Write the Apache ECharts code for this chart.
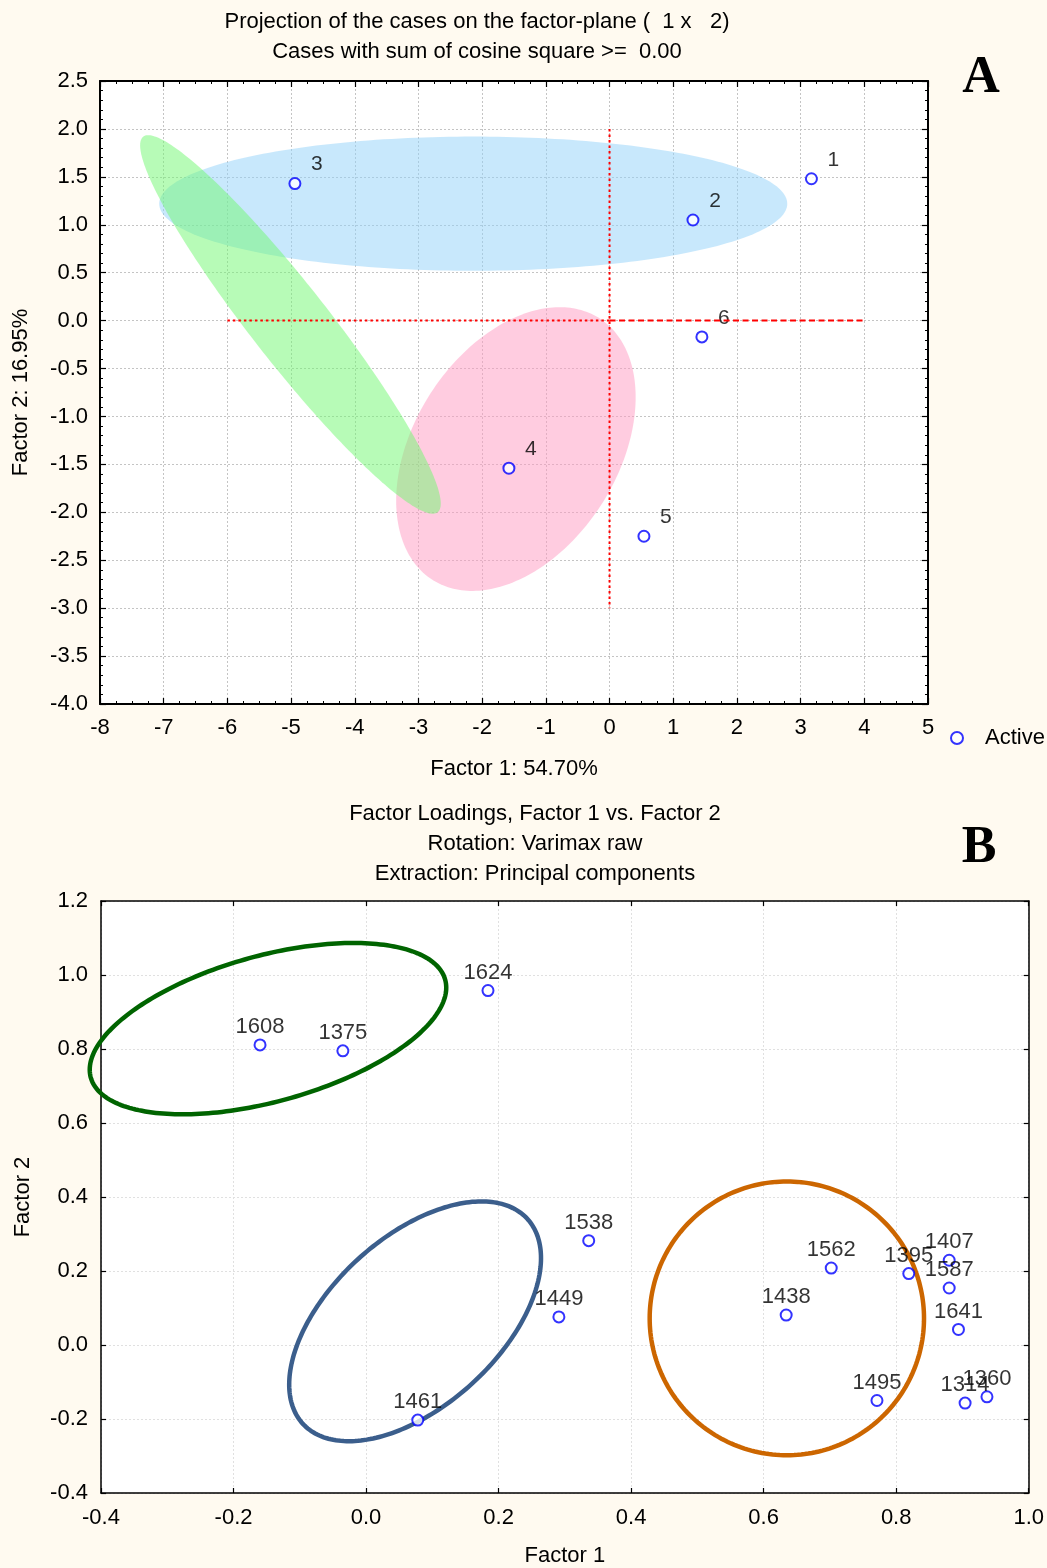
<!DOCTYPE html>
<html>
<head>
<meta charset="utf-8">
<title>Factor analysis: case projection and factor loadings</title>
<script src="https://cdn.jsdelivr.net/npm/echarts@6/dist/echarts.min.js"></script>
<style>
  html, body { margin: 0; padding: 0; background: #fffaf0; }
  #chart { width: 1047px; height: 1568px; }
</style>
</head>
<body>
<div id="chart"></div>
<script>
// ---------- Panel A: projection of the cases on the factor plane ----------
const caseIds = ['1', '2', '3', '4', '5', '6'];
const caseF1 = [3.17, 1.31, -4.94, -1.58, 0.54, 1.45];
const caseF2 = [1.48, 1.05, 1.43, -1.54, -2.25, -0.17];

// group ellipses: centre (cx, cy), spread (sx, sy) and correlation r
const caseEllipseCx = [-2.14, -1.47, -5.01];
const caseEllipseCy = [1.22, -1.34, -0.04];
const caseEllipseSx = [4.93, 1.88, 2.36];
const caseEllipseSy = [0.70, 1.48, 1.975];
const caseEllipseR = [0, 0.365, -0.946];
const caseEllipseFill = ['rgba(145,209,249,0.5)', 'rgba(255,153,193,0.5)', 'rgba(111,247,111,0.5)'];

// origin cross-hair
const refVertical = [[0, 2.0], [0, -3.0]];
const refLeft = [[-6, 0], [0, 0]];
const refRight = [[0, 0], [4, 0]];

const xTicksA = { min: -8, max: 5, interval: 1 };
const yTicksA = { min: -4, max: 2.5, interval: 0.5 };

// ---------- Panel B: factor loadings ----------
const varIds = ['1608', '1375', '1624', '1538', '1449', '1461', '1438', '1562',
                '1395', '1407', '1587', '1641', '1495', '1314', '1360'];
const loadF1 = [-0.160, -0.035, 0.184, 0.336, 0.291, 0.078, 0.634, 0.702,
                0.819, 0.880, 0.880, 0.894, 0.771, 0.904, 0.937];
const loadF2 = [0.811, 0.795, 0.958, 0.282, 0.076, -0.203, 0.081, 0.208,
                0.193, 0.229, 0.154, 0.042, -0.150, -0.157, -0.140];

const loadEllipseCx = [-0.148, 0.074, 0.635];
const loadEllipseCy = [0.855, 0.064, 0.072];
const loadEllipseSx = [0.269, 0.190, 0.207];
const loadEllipseSy = [0.2315, 0.324, 0.370];
const loadEllipseR = [0.479, 0.527, 0];
const loadEllipseStroke = ['#006400', '#3b5e8c', '#cc6600'];

const xTicksB = { min: -0.4, max: 1.0, interval: 0.2 };
const yTicksB = { min: -0.4, max: 1.2, interval: 0.2 };

// ---------- helpers ----------
const FONT = '"Liberation Sans", Arial, sans-serif';
const SERIF = '"Liberation Serif", "Times New Roman", serif';

function ellipseData(cx, cy, sx, sy, r) {
  return cx.map((v, i) => [v, cy[i], sx[i], sy[i], r[i]]);
}

// outline of a concentration ellipse, traced in data units and mapped by the axes
function ellipseRenderer(styleFor) {
  return function (params, api) {
    const cx = api.value(0), cy = api.value(1);
    const sx = api.value(2), sy = api.value(3), r = api.value(4);
    const k = Math.sqrt(1 - r * r);
    const pts = [];
    const n = 240;
    for (let i = 0; i < n; i++) {
      const t = (i / n) * 2 * Math.PI;
      pts.push(api.coord([cx + sx * Math.cos(t), cy + sy * (r * Math.cos(t) + k * Math.sin(t))]));
    }
    return { type: 'polygon', shape: { points: pts }, style: styleFor(params.dataIndex) };
  };
}

const fmt1 = v => Number(v).toFixed(1);

function mainX(grid, t, opts) {
  return Object.assign({
    type: 'value', gridIndex: grid, position: 'bottom',
    min: t.min, max: t.max, interval: t.interval,
    axisLine: { show: true, onZero: false, lineStyle: { color: '#000', width: opts.lw } },
    axisTick: { show: true, inside: true, length: opts.tick, lineStyle: { color: '#000', width: 1.2 } },
    minorTick: { show: !!opts.minor, splitNumber: opts.minor || 5, length: 3, lineStyle: { color: '#000', width: 1 } },
    axisLabel: { show: true, color: '#000', fontFamily: FONT, fontSize: 22, margin: opts.margin, formatter: opts.fmt,
                 showMinLabel: true, showMaxLabel: true },
    splitLine: { show: true, lineStyle: { color: opts.gridColor, type: [2, 2], width: 1 } },
    nameLocation: 'middle', nameGap: opts.nameGap,
    nameTextStyle: { color: '#000', fontFamily: FONT, fontSize: 22 }
  }, opts.extra || {});
}

function mirrorAxis(grid, t, pos, opts) {
  return {
    type: 'value', gridIndex: grid, position: pos,
    min: t.min, max: t.max, interval: t.interval,
    axisLine: { show: true, onZero: false, lineStyle: { color: '#000', width: opts.lw } },
    axisTick: { show: true, inside: true, length: opts.tick, lineStyle: { color: '#000', width: 1.2 } },
    minorTick: { show: !!opts.minor, splitNumber: opts.minor || 5, length: 3, lineStyle: { color: '#000', width: 1 } },
    axisLabel: { show: false },
    splitLine: { show: false }
  };
}

const optA = { lw: 2, tick: 6 };
const optB = { lw: 1.5, tick: 5 };

const option = {
  animation: false,
  backgroundColor: '#fffaf0',
  title: [
    {
      text: 'Projection of the cases on the factor-plane (  1 x   2)\nCases with sum of cosine square >=  0.00',
      left: 472, top: 2, textAlign: 'center',
      textStyle: { fontFamily: FONT, fontSize: 22, fontWeight: 'normal', color: '#000', lineHeight: 30 }
    },
    {
      text: 'A', left: 976, top: 48, textAlign: 'center',
      textStyle: { fontFamily: SERIF, fontSize: 52, fontWeight: 'bold', color: '#000', lineHeight: 52 }
    },
    {
      text: 'Factor Loadings, Factor 1 vs. Factor 2\nRotation: Varimax raw\nExtraction: Principal components',
      left: 530, top: 794, textAlign: 'center',
      textStyle: { fontFamily: FONT, fontSize: 22, fontWeight: 'normal', color: '#000', lineHeight: 30, align: 'center' }
    },
    {
      text: 'B', left: 974, top: 818, textAlign: 'center',
      textStyle: { fontFamily: SERIF, fontSize: 52, fontWeight: 'bold', color: '#000', lineHeight: 52 }
    }
  ],
  legend: {
    data: ['Active'],
    left: 945, top: 722,
    itemWidth: 46, itemHeight: 12,
    textStyle: { fontFamily: FONT, fontSize: 22, color: '#000' }
  },
  grid: [
    { left: 100, top: 81, width: 828, height: 623, show: true, backgroundColor: '#ffffff', borderWidth: 0 },
    { left: 101, top: 901, width: 929, height: 594, show: true, backgroundColor: '#ffffff', borderWidth: 0 }
  ],
  xAxis: [
    mainX(0, xTicksA, Object.assign({}, optA, { minor: 4, margin: 13, fmt: v => String(v), gridColor: '#c4c4c4',
      nameGap: 54, extra: { name: 'Factor 1: 54.70%' } })),
    mirrorAxis(0, xTicksA, 'top', Object.assign({}, optA, { minor: 4 })),
    mainX(1, xTicksB, Object.assign({}, optB, { margin: 14, fmt: fmt1, gridColor: '#e0e0e0',
      nameGap: 52, extra: { name: 'Factor 1' } })),
    mirrorAxis(1, xTicksB, 'top', optB)
  ],
  yAxis: [
    Object.assign(mainX(0, yTicksA, Object.assign({}, optA, { minor: 5, margin: 12, fmt: fmt1, gridColor: '#c4c4c4',
      nameGap: 68, extra: { name: 'Factor 2: 16.95%' } })), { position: 'left' }),
    mirrorAxis(0, yTicksA, 'right', Object.assign({}, optA, { minor: 5 })),
    Object.assign(mainX(1, yTicksB, Object.assign({}, optB, { margin: 13, fmt: fmt1, gridColor: '#e0e0e0',
      nameGap: 67, extra: { name: 'Factor 2' } })), { position: 'left' }),
    mirrorAxis(1, yTicksB, 'right', optB)
  ],
  series: [
    // Panel A: shaded group ellipses
    {
      type: 'custom', name: 'groups', xAxisIndex: 0, yAxisIndex: 0, silent: true,
      data: ellipseData(caseEllipseCx, caseEllipseCy, caseEllipseSx, caseEllipseSy, caseEllipseR),
      encode: { x: 0, y: 1 },
      renderItem: ellipseRenderer(i => ({ fill: caseEllipseFill[i], stroke: null }))
    },
    // Panel A: origin lines
    {
      type: 'line', name: 'ref-v', xAxisIndex: 0, yAxisIndex: 0, silent: true, symbol: 'none',
      data: refVertical, lineStyle: { color: '#ff0000', width: 2, type: [2.5, 3] }
    },
    {
      type: 'line', name: 'ref-l', xAxisIndex: 0, yAxisIndex: 0, silent: true, symbol: 'none',
      data: refLeft, lineStyle: { color: '#ff0000', width: 2, type: [2.5, 3] }
    },
    {
      type: 'line', name: 'ref-r', xAxisIndex: 0, yAxisIndex: 0, silent: true, symbol: 'none',
      data: refRight, lineStyle: { color: '#ff0000', width: 2, type: [6, 3.5] }
    },
    // Panel A: cases
    {
      type: 'scatter', name: 'Active', xAxisIndex: 0, yAxisIndex: 0,
      symbol: 'emptyCircle', symbolSize: 11,
      itemStyle: { color: '#0000ff', borderColor: '#0000ff', borderWidth: 1.6 },
      data: caseF1.map((x, i) => ({ name: caseIds[i], value: [x, caseF2[i]] })),
      label: { show: true, formatter: '{b}', position: 'inside', offset: [22, -19],
               color: '#000', fontFamily: FONT, fontSize: 21 }
    },
    // Panel B: group outlines
    {
      type: 'custom', name: 'loading groups', xAxisIndex: 2, yAxisIndex: 2, silent: true,
      data: ellipseData(loadEllipseCx, loadEllipseCy, loadEllipseSx, loadEllipseSy, loadEllipseR),
      encode: { x: 0, y: 1 },
      renderItem: ellipseRenderer(i => ({ fill: 'none', stroke: loadEllipseStroke[i], lineWidth: 4.5 }))
    },
    // Panel B: variables
    {
      type: 'scatter', name: 'loadings', xAxisIndex: 2, yAxisIndex: 2,
      symbol: 'emptyCircle', symbolSize: 11,
      itemStyle: { color: '#0000ff', borderColor: '#0000ff', borderWidth: 1.6 },
      data: loadF1.map((x, i) => ({ name: varIds[i], value: [x, loadF2[i]] })),
      label: { show: true, formatter: '{b}', position: 'inside', offset: [0, -18],
               color: '#000', fontFamily: FONT, fontSize: 22 }
    }
  ]
};

const chart = echarts.init(document.getElementById('chart'), null, { renderer: 'canvas' });
chart.setOption(option);
</script>
</body>
</html>
